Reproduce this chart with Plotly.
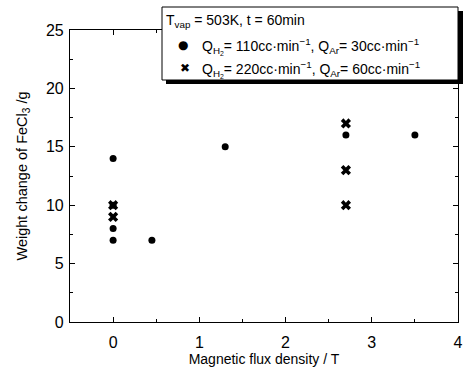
import plotly.graph_objects as go

# Data
circ_x = [0, 0, 0, 0, 0.45, 1.3, 2.7, 3.5]
circ_y = [14, 10, 8, 7, 7, 15, 16, 16]
cross_x = [0, 0, 2.7, 2.7, 2.7]
cross_y = [10, 9, 17, 13, 10]
label_circ = "Q<sub>H<sub>2</sub></sub>= 110cc·min<sup>−1</sup>, Q<sub>Ar</sub>= 30cc·min<sup>−1</sup>"
label_cross = "Q<sub>H<sub>2</sub></sub>= 220cc·min<sup>−1</sup>, Q<sub>Ar</sub>= 60cc·min<sup>−1</sup>"
legend_title = "T<sub>vap</sub> = 503K, t = 60min"
x_ticks = [0, 1, 2, 3, 4]
y_ticks = [0, 5, 10, 15, 20, 25]

FONT = "Liberation Sans, Arial, sans-serif"
W, H = 463, 370
L, R, T, B = 70, 5, 30, 48


def px(x):
    return (x - L) / (W - L - R)


def py(y):
    return (H - B - y) / (H - T - B)


fig = go.Figure()
fig.add_trace(go.Scatter(x=circ_x, y=circ_y, mode="markers", showlegend=False,
                         marker=dict(symbol="circle", size=7, color="black")))
fig.add_trace(go.Scatter(x=cross_x, y=cross_y, mode="markers", showlegend=False,
                         marker=dict(symbol="x", size=9, color="black", line=dict(width=0))))

axis_common = dict(showline=True, linecolor="black", linewidth=1.2, mirror="ticks",
                   ticks="inside", ticklen=5, tickcolor="black", showgrid=False, zeroline=False,
                   tickfont=dict(family=FONT, size=16, color="black"))

fig.update_xaxes(range=[-0.5, 4], tickvals=x_ticks, ticklabelstandoff=6,
                 minor=dict(dtick=0.5, ticks="inside", ticklen=3, tickcolor="black"),
                 title=dict(text="Magnetic flux density / T", font=dict(family=FONT, size=14, color="black"), standoff=3),
                 **axis_common)
fig.update_yaxes(range=[0, 25], tickvals=y_ticks, ticklabelstandoff=2,
                 minor=dict(dtick=2.5, ticks="inside", ticklen=3, tickcolor="black"),
                 title=dict(text="Weight change of FeCl<sub>3</sub> /g", font=dict(family=FONT, size=14.5, color="black"), standoff=14),
                 **axis_common)

# legend box with shadow
fig.add_shape(type="rect", xref="paper", yref="paper", x0=px(166), x1=px(463), y0=py(84), y1=py(11),
              fillcolor="black", line=dict(width=0), layer="above")
fig.add_shape(type="rect", xref="paper", yref="paper", x0=px(162), x1=px(458), y0=py(80), y1=py(7),
              fillcolor="white", line=dict(width=1, color="black"), layer="above")

ann_font = dict(family=FONT, size=14, color="black")
fig.add_annotation(xref="paper", yref="paper", x=px(164), y=py(21), xanchor="left", yanchor="middle",
                   text=legend_title, showarrow=False, font=ann_font)
fig.add_annotation(xref="paper", yref="paper", x=px(183), y=py(45), xanchor="center", yanchor="middle",
                   text="●", showarrow=False, font=dict(family="DejaVu Sans", size=12, color="black"))
fig.add_annotation(xref="paper", yref="paper", x=px(185), y=py(68), xanchor="center", yanchor="middle",
                   text="✖", showarrow=False, font=dict(family="DejaVu Sans", size=12, color="black"))
fig.add_annotation(xref="paper", yref="paper", x=px(200), y=py(46), xanchor="left", yanchor="middle",
                   text=label_circ, showarrow=False, font=ann_font)
fig.add_annotation(xref="paper", yref="paper", x=px(200), y=py(69), xanchor="left", yanchor="middle",
                   text=label_cross, showarrow=False, font=ann_font)

fig.update_layout(
    width=W, height=H,
    margin=dict(l=L, r=R, t=T, b=B, autoexpand=False),
    paper_bgcolor="white", plot_bgcolor="white",
    font=dict(family=FONT, color="black"),
    showlegend=False,
)

fig.write_html("out.html", config={"displayModeBar": False},
               post_script="document.body.style.margin='0';")
